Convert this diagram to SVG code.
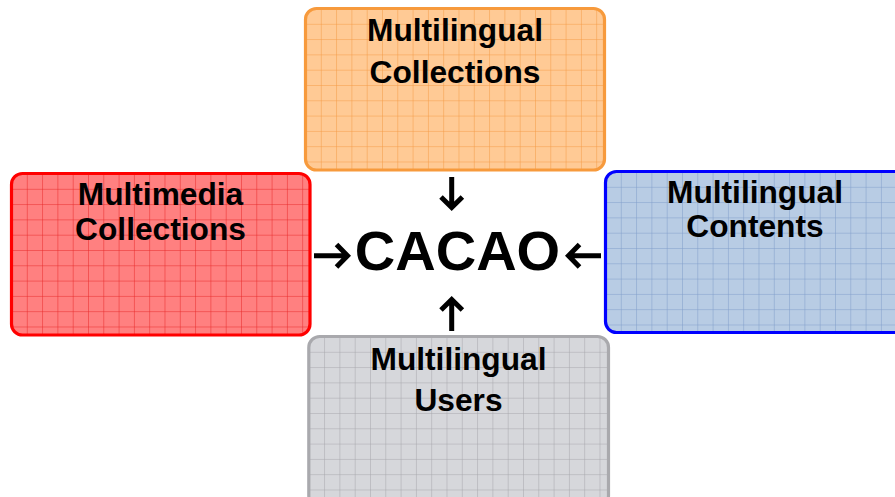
<svg xmlns="http://www.w3.org/2000/svg" width="895" height="497" viewBox="0 0 895 497">
<style>
.lbl{font-family:"Liberation Sans",Arial,sans-serif;font-weight:bold;font-size:31.7px;fill:#000;text-anchor:middle}
.main{font-family:"Liberation Sans",Arial,sans-serif;font-weight:bold;font-size:56px;fill:#000;text-anchor:middle}
.box{stroke-width:3.2}
.arr{fill:none;stroke:#000;stroke-width:5}
</style>
<defs>
<pattern id="gOrange" patternUnits="userSpaceOnUse" x="305.5" y="8.5" width="15.3" height="15.3">
<rect width="15.3" height="15.3" fill="#FFCA95"/>
<path d="M0 0V15.3M0 0H15.3" stroke="#F59A45" stroke-width="1"/>
</pattern>
<pattern id="gRed" patternUnits="userSpaceOnUse" x="11.5" y="173.5" width="15.3" height="15.3">
<rect width="15.3" height="15.3" fill="#FF8080"/>
<path d="M0 0V15.3M0 0H15.3" stroke="#E82828" stroke-width="1"/>
</pattern>
<pattern id="gBlue" patternUnits="userSpaceOnUse" x="605.5" y="171.5" width="15.3" height="15.3">
<rect width="15.3" height="15.3" fill="#B8CCE4"/>
<path d="M0 0V15.3M0 0H15.3" stroke="#7F9DCA" stroke-width="1"/>
</pattern>
<pattern id="gGray" patternUnits="userSpaceOnUse" x="308.8" y="336.5" width="15.3" height="15.3">
<rect width="15.3" height="15.3" fill="#D6D7DB"/>
<path d="M0 0V15.3M0 0H15.3" stroke="#A6A6AB" stroke-width="1"/>
</pattern>
</defs>
<rect width="895" height="497" fill="#FFFFFF"/>
<g id="node-multilingual-collections">
<rect class="box" x="305.5" y="8.5" width="299" height="161.5" rx="11" fill="url(#gOrange)" stroke="#F79A3C"/>
<text class="lbl" x="455" y="41">Multilingual</text>
<text class="lbl" x="455" y="83">Collections</text>
</g>
<g id="node-multimedia-collections">
<rect class="box" x="11.5" y="173.5" width="298.5" height="161.5" rx="11" fill="url(#gRed)" stroke="#FF0000"/>
<text class="lbl" x="160.5" y="205">Multimedia</text>
<text class="lbl" x="160.5" y="240">Collections</text>
</g>
<g id="node-multilingual-contents">
<rect class="box" x="605.5" y="171.5" width="300" height="161" rx="11" fill="url(#gBlue)" stroke="#0000FF"/>
<text class="lbl" x="755" y="203">Multilingual</text>
<text class="lbl" x="755" y="237">Contents</text>
</g>
<g id="node-multilingual-users">
<rect class="box" x="308.8" y="336.5" width="299.7" height="170" rx="11" fill="url(#gGray)" stroke="#A9A9AD"/>
<text class="lbl" x="458.5" y="370">Multilingual</text>
<text class="lbl" x="458.5" y="411">Users</text>
</g>
<g id="node-cacao">
<text class="main" x="457.5" y="270">CACAO</text>
</g>
<g id="connectors">
<path class="arr" d="M451.7 177V208M441 197L451.7 207.5L462.4 197"/>
<path class="arr" d="M451.7 331V299.5M441 310L451.7 299.5L462.4 310"/>
<path class="arr" d="M314 255.7H348M336.5 244.5L347.5 255.7L336.5 267"/>
<path class="arr" d="M601 255.7H568.5M579.5 244.5L568.5 255.7L579.5 267"/>
</g>
</svg>
